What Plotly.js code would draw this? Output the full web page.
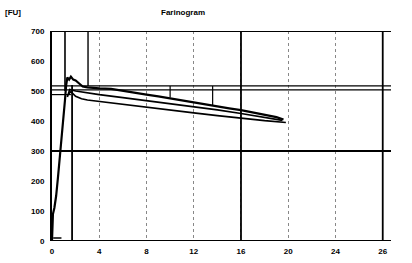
<!DOCTYPE html>
<html><head><meta charset="utf-8">
<script src="https://cdn.plot.ly/plotly-3.0.1.min.js"></script>
<style>html,body{margin:0;padding:0;background:#fff}#c{width:412px;height:263px}</style>
</head><body><div id="c"></div>
<script>
// Farinogram curves (time in min, consistency in FU)
const topX = [0, 0.08, 0.2, 0.35, 0.5, 0.65, 0.8, 0.95, 1.1, 1.2, 1.3, 1.45, 1.6, 1.8, 2.0, 2.3, 2.6, 3.0, 3.5, 4, 5, 6, 7, 8, 9, 10, 11, 12, 13, 14, 15, 16, 17, 18, 19, 19.6];
const topY = [0, 90, 110, 150, 210, 270, 330, 400, 470, 520, 545, 538, 548, 538, 535, 525, 515, 512, 510, 509, 507, 500, 495, 488, 482, 475, 468, 461, 455, 449, 442, 436, 428, 420, 413, 405];
const midX = [1.3, 1.5, 2, 3, 4, 6, 8, 10, 12, 14, 16, 18, 19.5];
const midY = [480, 505, 500, 493, 488, 478, 468, 458, 447, 437, 425, 413, 402];
const botX = [1.4, 1.6, 2, 2.5, 3, 4, 6, 8, 10, 12, 14, 16, 18, 19.8];
const botY = [490, 498, 482, 474, 470, 465, 455, 446, 436, 427, 418, 409, 401, 395];
const xTicks = [0, 4, 8, 12, 16, 20, 24, 28];
const xTickText = ['0', '4', '8', '12', '16', '20', '24', '26'];
const yTicks = [0, 100, 200, 300, 400, 500, 600, 700];
const bandHigh = 517, bandLow = 504, bandShort = 488;

const ln = {color: '#000', width: 1.7};
const traces = [
  {x: topX, y: topY, mode: 'lines', line: {color: '#000', width: 2.2}, hoverinfo: 'skip'},
  {x: midX, y: midY, mode: 'lines', line: ln, hoverinfo: 'skip'},
  {x: botX, y: botY, mode: 'lines', line: ln, hoverinfo: 'skip'}
];
const L = (x0, y0, x1, y1, w) => ({type: 'line', xref: 'x', yref: 'y', x0, y0, x1, y1, line: {color: '#000', width: w || 1.5}, layer: 'above'});
const shapes = [
  L(0, 300, 28.7, 300, 1.8),
  L(0, bandHigh, 28.7, bandHigh, 1.2),
  L(0, bandLow, 28.7, bandLow, 1.2),
  L(0, bandShort, 1.6, bandShort, 1.2),
  L(16, 0, 16, 700, 1.8),
  L(28, 0, 28, 700, 1.8),
  L(1.1, 500, 1.1, 700, 1.6),
  L(1.7, 0, 1.7, 520, 1.8),
  L(3.05, 517, 3.05, 700, 1.4),
  L(10, 517, 10, 478, 1.2),
  L(13.6, 517, 13.6, 452, 1.2),
  L(0.1, 10, 0.8, 10, 1.5),
  L(0, 700, 28.7, 700, 2.2),
  L(0, 0, 28.7, 0, 2)
];
const layout = {
  width: 412, height: 263,
  margin: {l: 52, r: 21, t: 31, b: 22},
  paper_bgcolor: '#fff', plot_bgcolor: '#fff',
  showlegend: false,
  font: {family: 'Liberation Sans, Arial, sans-serif', color: '#000', size: 8},
  xaxis: {range: [0, 28.7], tickvals: xTicks, ticktext: xTickText, showgrid: true,
    gridcolor: '#888', griddash: 'dot', gridwidth: 1, zeroline: false, showline: false,
    ticks: '', ticklen: 0, ticklabelstandoff: 4, tickfont: {size: 8, weight: 'bold'}, fixedrange: true},
  yaxis: {range: [0, 700], tickvals: yTicks, showgrid: false, zeroline: false,
    showline: true, linecolor: '#000', linewidth: 2, ticks: '', ticklen: 0, ticklabelstandoff: 4,
    tickfont: {size: 8, weight: 'bold'}, fixedrange: true},
  shapes: shapes,
  annotations: [
    {text: 'Farinogram', xref: 'paper', yref: 'paper', x: 0.385, y: 1.0, yshift: 12, showarrow: false,
      font: {size: 8, weight: 'bold'}, xanchor: 'center', yanchor: 'bottom'},
    {text: '[FU]', xref: 'paper', yref: 'paper', x: -0.115, y: 1.0, yshift: 12, showarrow: false,
      font: {size: 8, weight: 'bold'}, xanchor: 'center', yanchor: 'bottom'}
  ]
};
Plotly.newPlot('c', traces, layout, {displayModeBar: false, staticPlot: true});
</script></body></html>
